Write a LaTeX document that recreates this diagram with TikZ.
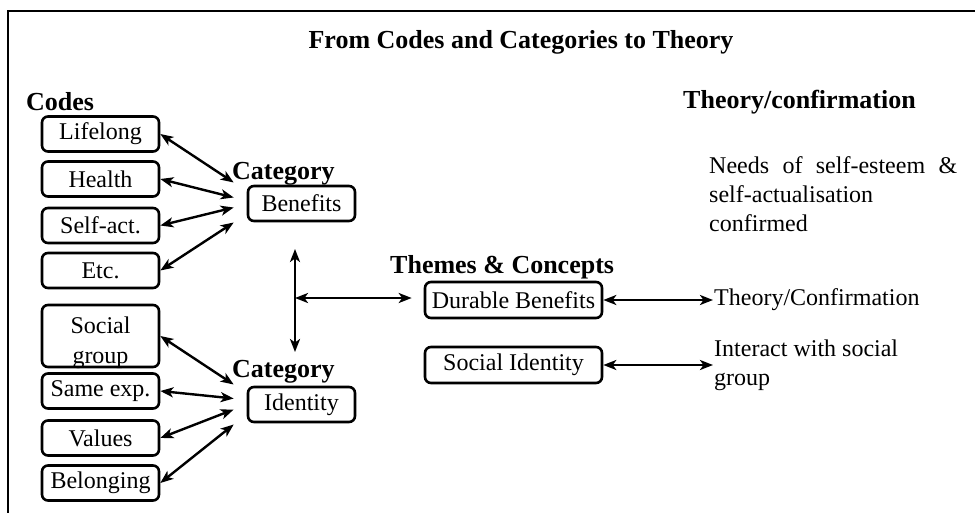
\documentclass[tikz,border=0pt]{standalone}
\usepackage{fontspec}
\setmainfont{Liberation Serif}
\usetikzlibrary{arrows.meta}
\begin{document}
\begin{tikzpicture}[x=1pt,y=-1pt,
  box/.style={draw, line width=2.6pt, rounded corners=6pt, inner sep=0pt,
              font=\fontsize{24}{28}\selectfont},
  codebox/.style={box, minimum width=117pt, minimum height=35pt},
  catbox/.style={box, minimum width=107pt, minimum height=35pt},
  themebox/.style={box, minimum width=177pt, minimum height=36pt},
  head/.style={font=\fontsize{26}{30}\selectfont\bfseries, inner sep=0pt, anchor=base west},
  plain/.style={font=\fontsize{24}{29}\selectfont, inner sep=0pt, align=left},
  tip/.tip={Stealth[length=13pt,width=10pt,inset=3.5pt]},
  dbl/.style={tip-tip, line width=2.4pt},
]
\useasboundingbox (0,0) rectangle (975,512);

% open frame: left and top edges
\draw[line width=2pt] (8,515) -- (8,11) -- (980,11);

% title and column headings
\node[head, anchor=base] (title) at (521,48) {From Codes and Categories to Theory};
\node[head] (codes) at (26,110) {Codes};
\node[head] (cat1) at (232,179) {Category};
\node[head] (cat2) at (232,377) {Category};
\node[head] (themes) at (390,273) {Themes \& Concepts};
\node[head] (theoryhead) at (683,108) {Theory/confirmation};

% codes
\node[codebox] (lifelong) at (100.5,134) {Lifelong};
\node[codebox] (health) at (100.5,179) {Health};
\node[codebox] (selfact) at (100.5,225.5) {Self-act.};
\node[codebox] (etc) at (100.5,270.5) {Etc.};
\node[font=\fontsize{24}{30}\selectfont, align=center, inner sep=0pt] (socialtxt) at (100.5,343) {Social\\group};
\node[codebox, minimum height=62pt, fill=none] (social) at (100.5,336) {};
\node[codebox] (sameexp) at (100.5,391) {Same exp.};
\node[codebox] (values) at (100.5,438) {Values};
\node[codebox] (belonging) at (100.5,483) {Belonging};

% categories
\node[catbox] (benefits) at (301.5,203.5) {Benefits};
\node[catbox] (identity) at (301.5,404.5) {Identity};

% themes
\node[themebox] (durable) at (513.5,300) {Durable Benefits};
\node[themebox] (socid) at (513.5,365) {Social Identity};

% theory side
\node[plain, anchor=north west] (needs) at (709,156)
  {\makebox[248pt][s]{Needs of self-esteem \&}\\self-actualisation\\confirmed};
\node[plain, anchor=west, inner sep=1pt] (thconf) at (713,300) {Theory/Confirmation};
\node[plain, anchor=west, inner sep=1pt] (interact) at (713,365) {Interact with social\\group};

% arrow ends in front of the category boxes
\coordinate (b1) at ([xshift=-13pt,yshift=21pt]benefits.west);
\coordinate (b2) at ([xshift=-13pt,yshift=6pt]benefits.west);
\coordinate (b3) at ([xshift=-13pt,yshift=-4pt]benefits.west);
\coordinate (b4) at ([xshift=-13pt,yshift=-19pt]benefits.west);
\coordinate (i1) at ([xshift=-13pt,yshift=20pt]identity.west);
\coordinate (i2) at ([xshift=-13pt,yshift=6pt]identity.west);
\coordinate (i3) at ([xshift=-13pt,yshift=-5pt]identity.west);
\coordinate (i4) at ([xshift=-13pt,yshift=-20pt]identity.west);

\draw[dbl] (lifelong.east) -- (b1);
\draw[dbl] (health.east) -- (b2);
\draw[dbl] (selfact.east) -- (b3);
\draw[dbl] (etc.east) -- (b4);
\draw[dbl] (social.east) -- (i1);
\draw[dbl] (sameexp.east) -- (i2);
\draw[dbl] (values.east) -- (i3);
\draw[dbl] (belonging.east) -- (i4);

% links between categories and themes
\coordinate (vtop) at (295,249);
\coordinate (vbot) at (295,352);
\coordinate (vmid) at (295,298);
\coordinate (hend) at ([xshift=-12pt,yshift=2pt]durable.west);
\draw[dbl] (vtop) -- (vbot);
\draw[dbl] (vmid) -- (hend);

% themes to theory
\draw[dbl] (durable.east) -- (thconf.west);
\draw[dbl] (socid.east) -- (interact.west);
\end{tikzpicture}
\end{document}
